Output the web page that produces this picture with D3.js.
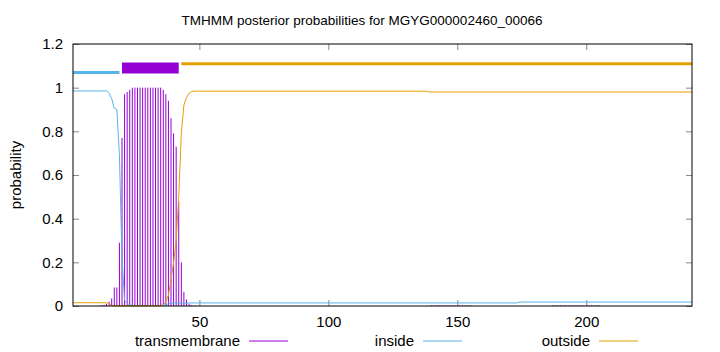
<!DOCTYPE html>
<html>
<head>
<meta charset="utf-8">
<script src="https://cdn.jsdelivr.net/npm/d3@7"></script>
<style>
body { margin: 0; background: #fff; }
svg { display: block; font-family: "Liberation Sans", Arial, sans-serif; }
</style>
</head>
<body>
<svg id="chart" width="720" height="352"></svg>
<script>
var title = 'TMHMM posterior probabilities for MGYG000002460_00066';
var seqLength = 241;

// per-residue posteriors, residues 1..50
var headResidues = d3.range(1, 51);
var tmHead = [
    0, 0, 0, 0, 0, 0, 0, 0, 0, 0,
    0.002, 0.003, 0.005, 0.01, 0.02, 0.035, 0.085, 0.085, 0.29, 0.77,
    0.97, 0.98, 0.99, 1, 1, 1, 1, 1, 1, 1,
    1, 1, 1, 1, 1, 0.99, 0.97, 0.94, 0.86, 0.79,
    0.73, 0.48, 0.2, 0.065, 0.03, 0.01, 0.004, 0.002, 0.001, 0.001
];
var insideHead = [
    0.985, 0.985, 0.985, 0.985, 0.985, 0.985, 0.985, 0.985, 0.985, 0.985,
    0.985, 0.985, 0.985, 0.985, 0.975, 0.95, 0.905, 0.9, 0.69, 0.22,
    0.025, 0.012, 0.005, 0.003, 0.002, 0.002, 0.002, 0.002, 0.002, 0.002,
    0.002, 0.002, 0.002, 0.002, 0.002, 0.003, 0.006, 0.01, 0.013, 0.014,
    0.014, 0.014, 0.014, 0.014, 0.014, 0.014, 0.014, 0.014, 0.014, 0.014
];
var outsideHead = [
    0.015, 0.015, 0.015, 0.015, 0.015, 0.015, 0.015, 0.015, 0.015, 0.015,
    0.015, 0.015, 0.015, 0.015, 0.01, 0.003, 0.001, 0.001, 0.001, 0.001,
    0.001, 0.001, 0.001, 0.001, 0.001, 0.001, 0.001, 0.001, 0.001, 0.001,
    0.001, 0.001, 0.001, 0.001, 0.002, 0.005, 0.02, 0.05, 0.12, 0.2,
    0.3, 0.5, 0.79, 0.92, 0.955, 0.975, 0.982, 0.984, 0.984, 0.984
];

// flat tails after residue 50: [residue, value] break points
var insideTail = [[50, 0.014], [173, 0.014], [174, 0.018], [241, 0.018]];
var outsideTail = [[50, 0.984], [138, 0.984], [139, 0.98], [241, 0.98]];
// tiny transmembrane impulses along the tail: [from, to, value]
var tmTailRuns = [[140, 155, 0.003], [187, 205, 0.003]];

// predicted topology bars: [from, to]
var insideSeg = [1, 19];
var tmSeg = [20, 42];
var outsideSeg = [43, 241];

var xTicks = [50, 100, 150, 200];
var yTicks = [0, 0.2, 0.4, 0.6, 0.8, 1, 1.2];

var colors = { tm: '#9400d3', inside: '#56b4e9', outside: '#e69f00' };

var plotLeft = 73, plotRight = 692, plotTop = 44, plotBottom = 306;
var x = d3.scaleLinear().domain([1, seqLength]).range([plotLeft, plotRight]);
var y = d3.scaleLinear().domain([0, 1.2]).range([plotBottom, plotTop]);

var svg = d3.select('#chart');

/* Build series */
function headPoints(values) {
    return headResidues.map(function(r, i) { return [r, values[i]]; });
}
var insidePts = headPoints(insideHead).concat(insideTail.slice(1));
var outsidePts = headPoints(outsideHead).concat(outsideTail.slice(1));
var tmPts = headPoints(tmHead);
tmTailRuns.forEach(function(run) {
    d3.range(run[0], run[1] + 1).forEach(function(r) { tmPts.push([r, run[2]]); });
});

/* Axes (gnuplot style: inward ticks, mirrored) */
var tickColor = '#888';
function styleAxis(g) {
    g.select('.domain').remove();
    g.selectAll('.tick line').attr('stroke', tickColor);
    g.selectAll('.tick text').attr('fill', '#000').style('font-size', '15px');
}
svg.append('g')
    .attr('transform', 'translate(0,' + plotBottom + ')')
    .call(d3.axisBottom(x).tickValues(xTicks).tickSize(-6).tickPadding(10))
    .call(styleAxis);
svg.append('g')
    .attr('transform', 'translate(0,' + plotTop + ')')
    .call(d3.axisTop(x).tickValues(xTicks).tickSize(-6).tickFormat(''))
    .call(styleAxis);
svg.append('g')
    .attr('transform', 'translate(' + plotLeft + ',0)')
    .call(d3.axisLeft(y).tickValues(yTicks).tickSize(-6).tickPadding(10).tickFormat(d3.format('')))
    .call(styleAxis);
svg.append('g')
    .attr('transform', 'translate(' + plotRight + ',0)')
    .call(d3.axisRight(y).tickValues(yTicks).tickSize(-6).tickFormat(''))
    .call(styleAxis);

/* Transmembrane impulses */
svg.append('g')
    .selectAll('line')
    .data(tmPts.filter(function(d) { return d[1] > 0; }))
    .join('line')
    .attr('x1', function(d) { return x(d[0]); })
    .attr('x2', function(d) { return x(d[0]); })
    .attr('y1', y(0))
    .attr('y2', function(d) { return y(d[1]); })
    .attr('stroke', colors.tm)
    .attr('stroke-width', 1);

/* Inside / outside lines */
var line = d3.line()
    .x(function(d) { return x(d[0]); })
    .y(function(d) { return y(d[1]); });

svg.append('path')
    .attr('d', line(insidePts))
    .attr('fill', 'none')
    .attr('stroke', colors.inside)
    .attr('stroke-width', 1);
svg.append('path')
    .attr('d', line(outsidePts))
    .attr('fill', 'none')
    .attr('stroke', colors.outside)
    .attr('stroke-width', 1);

/* Topology bars */
var bars = [
    { seg: insideSeg, level: 1.07, width: 3, color: colors.inside },
    { seg: tmSeg, level: 1.09, width: 11, color: colors.tm },
    { seg: outsideSeg, level: 1.11, width: 3, color: colors.outside }
];
svg.append('g')
    .selectAll('line')
    .data(bars)
    .join('line')
    .attr('x1', function(d) { return x(d.seg[0]); })
    .attr('x2', function(d) { return x(d.seg[1]); })
    .attr('y1', function(d) { return y(d.level); })
    .attr('y2', function(d) { return y(d.level); })
    .attr('stroke', function(d) { return d.color; })
    .attr('stroke-width', function(d) { return d.width; });

/* Border */
svg.append('rect')
    .attr('x', plotLeft)
    .attr('y', plotTop)
    .attr('width', plotRight - plotLeft)
    .attr('height', plotBottom - plotTop)
    .attr('fill', 'none')
    .attr('stroke', '#000')
    .attr('stroke-width', 1);

/* Title and axis label */
svg.append('text')
    .attr('x', 362)
    .attr('y', 25)
    .attr('text-anchor', 'middle')
    .style('font-size', '13.5px')
    .text(title);

svg.append('text')
    .attr('transform', 'translate(17,' + ((plotTop + plotBottom) / 2) + ') rotate(-90)')
    .attr('text-anchor', 'middle')
    .attr('dominant-baseline', 'middle')
    .style('font-size', '15px')
    .text('probability');

/* Legend */
var legendItems = [
    { name: 'transmembrane', color: colors.tm, textEnd: 240 },
    { name: 'inside', color: colors.inside, textEnd: 414 },
    { name: 'outside', color: colors.outside, textEnd: 590 }
];
var legendY = 341;
var legend = svg.append('g')
    .selectAll('g')
    .data(legendItems)
    .join('g');
legend.append('text')
    .attr('x', function(d) { return d.textEnd; })
    .attr('y', legendY)
    .attr('dy', '0.35em')
    .attr('text-anchor', 'end')
    .style('font-size', '15px')
    .text(function(d) { return d.name; });
legend.append('line')
    .attr('x1', function(d) { return d.textEnd + 9; })
    .attr('x2', function(d) { return d.textEnd + 48; })
    .attr('y1', legendY)
    .attr('y2', legendY)
    .attr('stroke', function(d) { return d.color; })
    .attr('stroke-width', 1);
</script>
</body>
</html>
